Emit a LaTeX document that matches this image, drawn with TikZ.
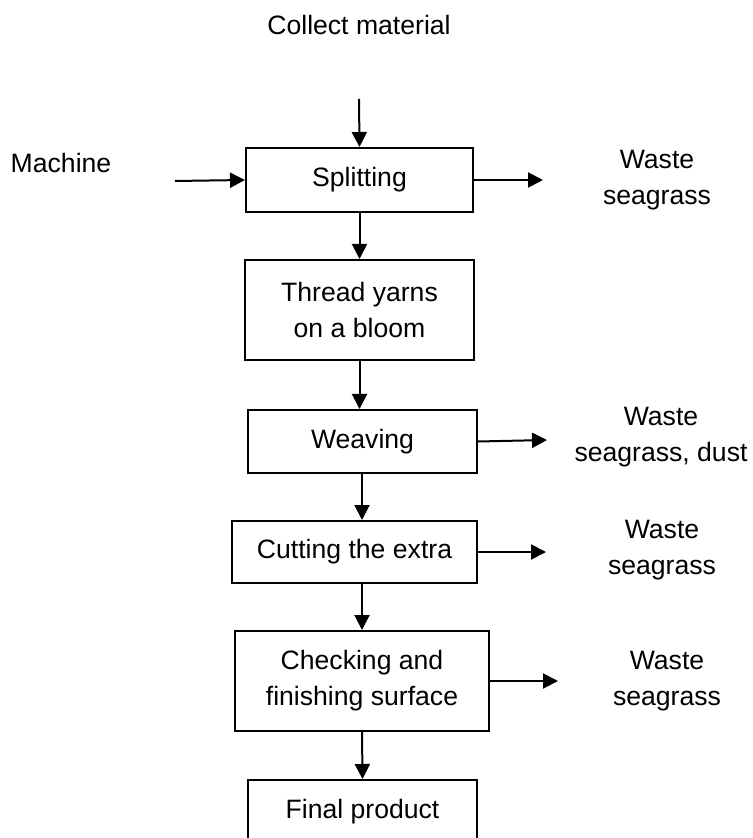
\documentclass[tikz,border=0pt]{standalone}
\usepackage{fontspec}
\setmainfont{Liberation Sans}
\usetikzlibrary{arrows.meta}

\begin{document}
\begin{tikzpicture}[x=0.5pt, y=-0.5pt,
    font=\fontsize{13.3}{18}\selectfont,
    stepbox/.style={draw, line width=1pt, align=center, inner sep=0pt},
    flow/.style={-{Triangle[length=7.5pt,width=7.5pt]}, line width=1pt},
    waste/.style={align=center}]
      \useasboundingbox (0,0) rectangle (752,838);
      \clip (0,0) rectangle (752,838);

      \node (collect) at (359,25) {Collect material};
      \node (machine) at (61,163) {Machine};
      \coordinate (cin) at (359,99);
      \coordinate (min) at (175,181);

      \node (split) at (359.5,180) [stepbox, minimum width=113.5pt, minimum height=32pt] {Splitting};
      \node (thread) at (359.5,310) [stepbox, minimum width=114.5pt, minimum height=50pt] {Thread yarns\\on a bloom};
      \node (weave) at (362.5,441.5) [stepbox, minimum width=114.5pt, minimum height=31.5pt] {Weaving};
      \node (cut) at (354.5,552) [stepbox, minimum width=122.5pt, minimum height=31pt] {Cutting the extra};
      \node (check) at (362,681) [stepbox, minimum width=127pt, minimum height=50pt] {Checking and\\finishing surface};
      \node (final) at (362.5,812) [stepbox, minimum width=114.5pt, minimum height=32pt] {Final product};

      \node (w1) at (657,180) [waste] {Waste\\seagrass};
      \node (w2) at (661,437) [waste] {Waste\\seagrass, dust};
      \node (w3) at (662,550) [waste] {Waste\\seagrass};
      \node (w4) at (667,681) [waste] {Waste\\seagrass};
      \coordinate (o1) at (543,180);
      \coordinate (o2) at (547,440);
      \coordinate (o3) at (546,552);
      \coordinate (o4) at (558,681);

      \draw[flow] (cin) -- (split.north);
      \draw[flow] (min) -- (split.west);
      \draw[flow] (split.south) -- (thread.north);
      \draw[flow] (thread.south) -- (thread.south |- weave.north);
      \draw[flow] (weave.south -| check.north) -- (check.north |- cut.north);
      \draw[flow] (check.north |- cut.south) -- (check.north);
      \draw[flow] (check.south) -- (final.north);

      \draw[flow] (split.east) -- (o1);
      \draw[flow] (weave.east) -- (o2);
      \draw[flow] (cut.east) -- (o3);
      \draw[flow] (check.east) -- (o4);
    \end{tikzpicture}
\end{document}
